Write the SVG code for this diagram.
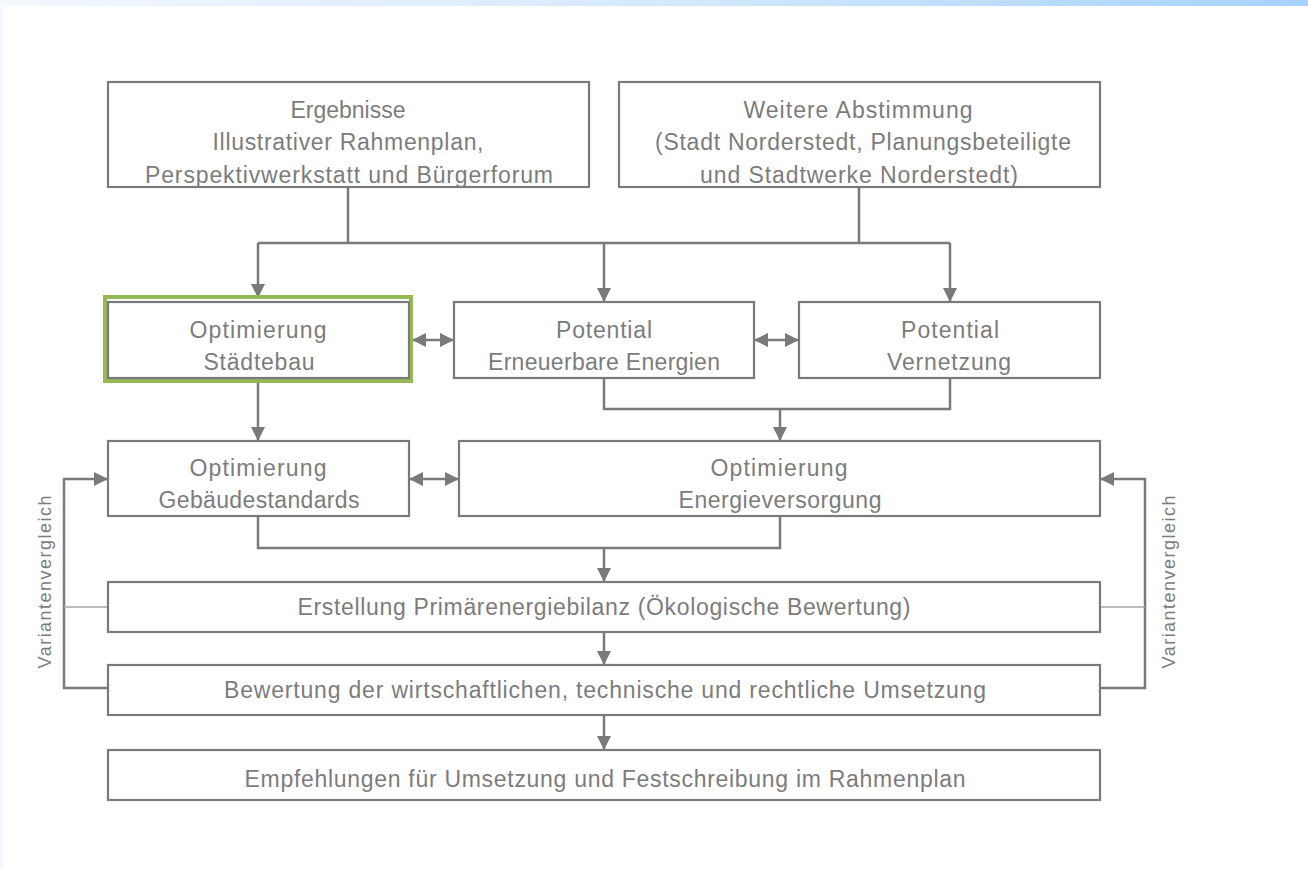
<svg xmlns="http://www.w3.org/2000/svg" width="1308" height="870" viewBox="0 0 1308 870">
<defs>
<linearGradient id="topg" x1="0" y1="0" x2="1" y2="0">
<stop offset="0" stop-color="#f4f8ff"/>
<stop offset="0.5" stop-color="#d6e9fd"/>
<stop offset="1" stop-color="#a6d3fd"/>
</linearGradient>
<marker id="ah" viewBox="0 0 14 14" refX="14" refY="7" markerWidth="14" markerHeight="14" markerUnits="userSpaceOnUse" orient="auto-start-reverse">
<path d="M0,0 L14,7 L0,14 Z" fill="#7a7a7a"/>
</marker>
</defs>
<style>
.box{fill:#ffffff;stroke:#7a7a7a;stroke-width:2.2}
.hl{fill:none;stroke:#95b955;stroke-width:4}
.ln{fill:none;stroke:#7a7a7a;stroke-width:2.5}
.thin{fill:none;stroke:#a8a8a8;stroke-width:1.5}
text{font-family:"Liberation Sans",Arial,sans-serif;font-size:23px;fill:#7c7c7c;text-anchor:middle}
.side{font-size:18px}
</style>
<rect x="0" y="0" width="1308" height="870" fill="#ffffff"/>
<rect x="0" y="0" width="3" height="870" fill="#f4f8ff"/>
<rect x="0" y="0" width="1308" height="6" fill="url(#topg)"/>

<g id="connectors">
<path class="ln" d="M348,187 V243 M859,187 V243 M258,243 H950"/>
<path class="ln" marker-end="url(#ah)" d="M258,243 V298"/>
<path class="ln" marker-end="url(#ah)" d="M604,243 V302"/>
<path class="ln" marker-end="url(#ah)" d="M950,243 V302"/>
<path class="ln" marker-start="url(#ah)" marker-end="url(#ah)" d="M412,340 H454"/>
<path class="ln" marker-start="url(#ah)" marker-end="url(#ah)" d="M754,340 H799"/>
<path class="ln" marker-end="url(#ah)" d="M258,381 V441"/>
<path class="ln" d="M604,378 V409 H950 V378"/>
<path class="ln" marker-end="url(#ah)" d="M780,409 V441"/>
<path class="ln" marker-start="url(#ah)" marker-end="url(#ah)" d="M409,479 H459"/>
<path class="ln" d="M258,516 V548 H780 V516"/>
<path class="ln" marker-end="url(#ah)" d="M604,548 V582"/>
<path class="ln" marker-end="url(#ah)" d="M604,632 V665"/>
<path class="ln" marker-end="url(#ah)" d="M604,715 V750"/>
<path class="ln" marker-end="url(#ah)" d="M108,688 H64 V479 H108"/>
<path class="ln" marker-end="url(#ah)" d="M1100,688 H1145 V479 H1100"/>
<path class="thin" d="M64,607 H108 M1100,607 H1145"/>
<text class="side" transform="translate(51,582) rotate(-90)" textLength="173">Variantenvergleich</text>
<text class="side" transform="translate(1175,582) rotate(-90)" textLength="173">Variantenvergleich</text>
</g>

<g id="n1">
<rect class="box" x="108" y="82" width="481" height="105"/>
<text x="348" y="118" textLength="115">Ergebnisse</text>
<text x="348" y="150" textLength="271">Illustrativer Rahmenplan,</text>
<text x="349" y="183" textLength="408">Perspektivwerkstatt und Bürgerforum</text>
</g>
<g id="n2">
<rect class="box" x="619" y="82" width="481" height="105"/>
<text x="858" y="118" textLength="229">Weitere Abstimmung</text>
<text x="863" y="150" textLength="416">(Stadt Norderstedt, Planungsbeteiligte</text>
<text x="859" y="183" textLength="318">und Stadtwerke Norderstedt)</text>
</g>
<g id="n3">
<rect class="hl" x="105" y="297" width="306" height="84"/>
<rect class="box" x="108" y="302" width="301" height="76"/>
<text x="258" y="338" textLength="137">Optimierung</text>
<text x="259" y="370" textLength="111">Städtebau</text>
</g>
<g id="n4">
<rect class="box" x="454" y="302" width="300" height="76"/>
<text x="604" y="338" textLength="96">Potential</text>
<text x="604" y="370" textLength="232">Erneuerbare Energien</text>
</g>
<g id="n5">
<rect class="box" x="799" y="302" width="301" height="76"/>
<text x="950" y="338" textLength="98">Potential</text>
<text x="949" y="370" textLength="124">Vernetzung</text>
</g>
<g id="n6">
<rect class="box" x="108" y="441" width="301" height="75"/>
<text x="258" y="476" textLength="137">Optimierung</text>
<text x="259" y="508" textLength="201">Gebäudestandards</text>
</g>
<g id="n7">
<rect class="box" x="459" y="441" width="641" height="75"/>
<text x="779" y="476" textLength="137">Optimierung</text>
<text x="780" y="508" textLength="203">Energieversorgung</text>
</g>
<g id="n8">
<rect class="box" x="108" y="582" width="992" height="50"/>
<text x="604" y="615" textLength="613">Erstellung Primärenergiebilanz (Ökologische Bewertung)</text>
</g>
<g id="n9">
<rect class="box" x="108" y="665" width="992" height="50"/>
<text x="605" y="698" textLength="762">Bewertung der wirtschaftlichen, technische und rechtliche Umsetzung</text>
</g>
<g id="n10">
<rect class="box" x="108" y="750" width="992" height="50"/>
<text x="605" y="787" textLength="721">Empfehlungen für Umsetzung und Festschreibung im Rahmenplan</text>
</g>
</svg>
